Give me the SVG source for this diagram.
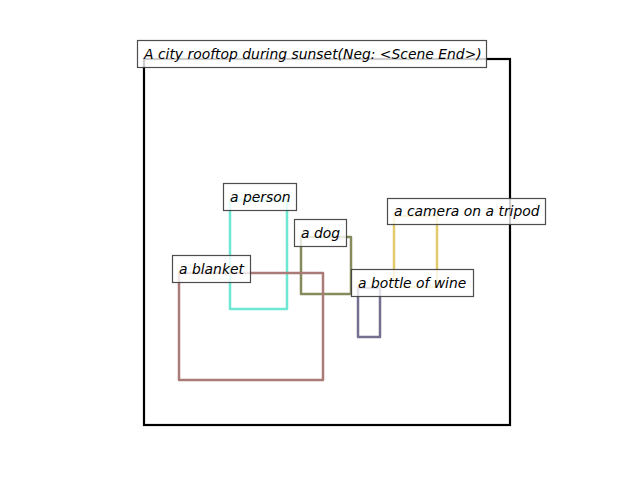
<svg xmlns="http://www.w3.org/2000/svg" width="640" height="480" viewBox="0 0 640 480">
<style>
.bb{fill:none;stroke-width:2.5;stroke-linejoin:round}
.lb{fill:#ffffff;fill-opacity:0.8;stroke:#3a3a3a;stroke-opacity:0.9;stroke-width:1.2}
.t{font-family:"DejaVu Sans",sans-serif;font-style:oblique;font-size:13.9px;fill:#000}
</style>
<rect width="640" height="480" fill="#fff"/>
<g id="frame"><rect x="144" y="59" width="366" height="366" fill="none" stroke="#000" stroke-width="2.2"/></g>
<g id="boxes">
<rect id="person-box" class="bb" x="230" y="200" width="57" height="109" stroke="#6ee8d2"/>
<rect id="dog-box" class="bb" x="301" y="237" width="50" height="57" stroke="#868a5c"/>
<rect id="blanket-box" class="bb" x="179" y="273" width="144" height="107" stroke="#a97c78"/>
<rect id="camera-box" class="bb" x="394" y="216" width="43" height="71" stroke="#e2cb6c"/>
<rect id="bottle-box" class="bb" x="358" y="288" width="22" height="49" stroke="#737090"/>
</g>
<g id="title"><rect class="lb" x="137.5" y="40.5" width="349" height="27"/><text class="t" x="144" y="58.5">A city rooftop during sunset(Neg: &lt;Scene End&gt;)</text></g>
<g id="person"><rect class="lb" x="223.5" y="183.5" width="73" height="27"/><text class="t" x="230" y="201.5">a person</text></g>
<g id="dog"><rect class="lb" x="294.5" y="219.5" width="52" height="27"/><text class="t" x="301" y="237.5">a dog</text></g>
<g id="blanket"><rect class="lb" x="172.5" y="255.5" width="78" height="27"/><text class="t" x="179" y="273.5">a blanket</text></g>
<g id="camera"><rect class="lb" x="387.5" y="198.5" width="158" height="26"/><text class="t" x="394" y="216">a camera on a tripod</text></g>
<g id="bottle"><rect class="lb" x="351.5" y="269.5" width="122" height="27"/><text class="t" x="358" y="287.5">a bottle of wine</text></g>
</svg>
